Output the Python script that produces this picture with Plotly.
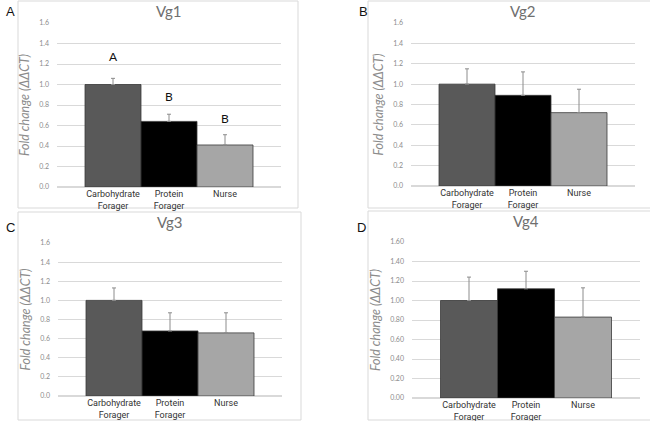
import plotly.graph_objects as go

categories = ["Carbohydrate<br>Forager", "Protein<br>Forager", "Nurse"]
bar_colors = ["#595959", "#000000", "#a6a6a6"]

titles = ["Vg1", "Vg2", "Vg3", "Vg4"]
panel_letters = ["A", "B", "C", "D"]

vg1_values = [1.00, 0.64, 0.41]
vg1_errors = [0.06, 0.07, 0.10]
vg2_values = [1.00, 0.89, 0.72]
vg2_errors = [0.15, 0.23, 0.23]
vg3_values = [1.00, 0.68, 0.66]
vg3_errors = [0.13, 0.19, 0.21]
vg4_values = [1.00, 1.12, 0.83]
vg4_errors = [0.24, 0.18, 0.30]

sig_letters_vg1 = ["A", "B", "B"]
sig_letter_y_vg1 = [1.27, 0.88, 0.67]

tick_vals = [0, 0.2, 0.4, 0.6, 0.8, 1.0, 1.2, 1.4, 1.6]

W, H = 650, 421

def px(x):
    return x / W

def py(y):
    return 1 - y / H

panels = [
    dict(px0=57, px1=281, pyb=187, pyt=23, fx0=18, fx1=298, fy0=1, fy1=208, lx=4, ly=12),
    dict(px0=411, px1=635, pyb=186, pyt=23, fx0=368, fx1=652, fy0=1, fy1=208, lx=357, ly=12),
    dict(px0=58, px1=282, pyb=396, pyt=243, fx0=18, fx1=301, fy0=212, fy1=420, lx=4, ly=227),
    dict(px0=412, px1=640, pyb=398, pyt=242, fx0=368, fx1=652, fy0=211, fy1=420, lx=355, ly=227),
]

values = [vg1_values, vg2_values, vg3_values, vg4_values]
errors = [vg1_errors, vg2_errors, vg3_errors, vg4_errors]

FONT = "Lato"

fig = go.Figure()
shapes = []
annotations = []
layout = {}
xs = [0, 1, 2]
for i, p in enumerate(panels):
    n = "" if i == 0 else str(i + 1)
    fig.add_trace(go.Bar(
        x=xs, y=values[i], width=1.0,
        marker=dict(color=bar_colors, line=dict(color="#3a3a3a", width=0.8)),
        error_y=dict(type="data", array=errors[i], arrayminus=[0, 0, 0], symmetric=False,
                     color="#8c8c8c", thickness=1, width=2),
        xaxis="x" + n, yaxis="y" + n, showlegend=False, hoverinfo="skip",
    ))
    fmt = ".2f" if i == 3 else ".1f"
    layout["xaxis" + n] = dict(
        domain=[px(p["px0"]), px(p["px1"])], range=[-1, 3], anchor="y" + n,
        tickvals=xs, ticktext=categories, showgrid=False, zeroline=False, automargin=False,
        showline=False, ticks="", tickfont=dict(family="Roboto", size=9, color="#333333"),
        fixedrange=True,
    )
    layout["yaxis" + n] = dict(
        domain=[py(p["pyb"]), py(p["pyt"])], range=[0, 1.6], anchor="x" + n, automargin=False,
        tickvals=tick_vals, tickformat=fmt, showgrid=True, gridcolor="#d9d9d9", gridwidth=1,
        zeroline=True, zerolinecolor="#d9d9d9", showline=False, ticks="",
        tickfont=dict(family=FONT, size=7, color="#8c8c8c"), ticklabelstandoff=7,
        title=dict(text="<i>Fold change (ΔΔCT)</i>", font=dict(family=FONT, size=12.5, color="#8c8c8c"), standoff=6),
        fixedrange=True,
    )
    shapes.append(dict(type="rect", xref="paper", yref="paper",
                       x0=px(p["fx0"]), x1=px(p["fx1"]), y0=py(p["fy1"]), y1=py(p["fy0"]),
                       line=dict(color="#d9d9d9", width=1), layer="below"))
    annotations.append(dict(text=panel_letters[i], xref="paper", yref="paper",
                            x=px(p["lx"]), y=py(p["ly"]), xanchor="left", yanchor="middle",
                            showarrow=False, font=dict(family="Liberation Sans", size=13, color="#111111")))
    annotations.append(dict(text=titles[i], xref="paper", yref="paper",
                            x=px((p["px0"] + p["px1"]) / 2), y=py(p["fy0"] + 10), xanchor="center", yanchor="middle",
                            showarrow=False, font=dict(family=FONT, size=15, color="#6f6f6f")))

for j in range(3):
    annotations.append(dict(text=sig_letters_vg1[j], x=xs[j], y=sig_letter_y_vg1[j], xref="x", yref="y",
                            showarrow=False, font=dict(family=FONT, size=12, color="#111111")))

fig.update_layout(
    width=W, height=H, margin=dict(l=0, r=0, t=0, b=0, autoexpand=False),
    paper_bgcolor="white", plot_bgcolor="white",
    shapes=shapes, annotations=annotations, bargap=0,
    **layout,
)
fig.write_html("out.html", config={"displayModeBar": False, "staticPlot": True},
               post_script="document.body.style.margin='0';document.body.style.overflow='hidden';")
